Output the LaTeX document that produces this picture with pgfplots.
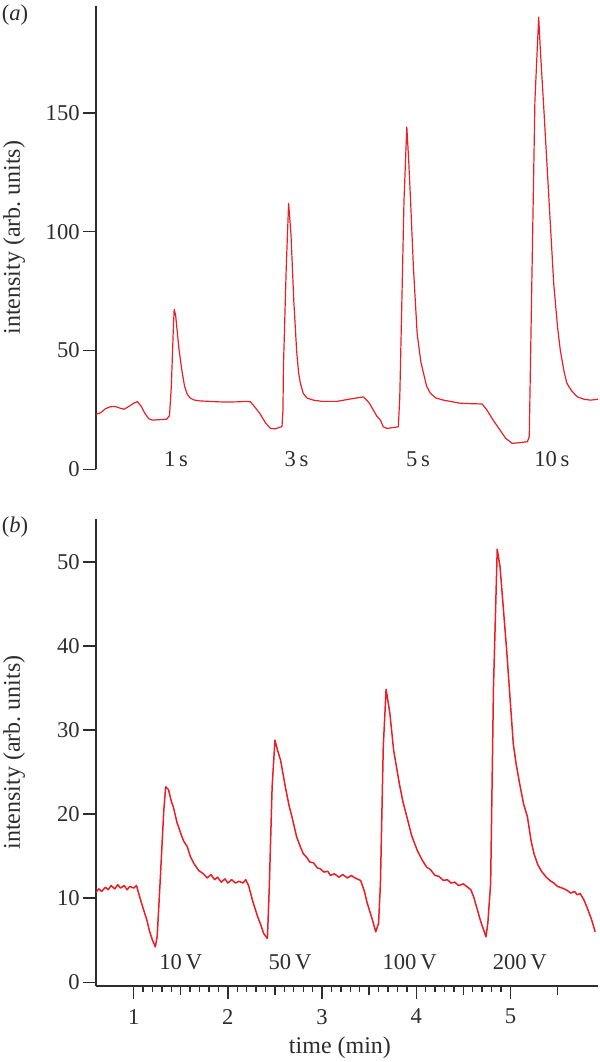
\documentclass[border=0pt]{standalone}
\usepackage{fontspec}
\setmainfont{Liberation Serif}
\usepackage{pgfplots}
\pgfplotsset{compat=1.18}
\definecolor{trace}{RGB}{235,30,38}
\definecolor{axisgray}{RGB}{45,45,45}

\tikzset{lab/.style={font=\fontsize{11.3}{13}\selectfont, text=axisgray}}
\pgfplotsset{
  panel/.style={
    scale only axis, width=251pt,
    xmin=0.6, xmax=5.93,
    axis y line*=left,
    ytick pos=left,
    x axis line style={-}, y axis line style={-},
    axis line style={axisgray, line width=0.7pt},
    tick style={axisgray, line width=0.7pt},
    tick align=outside,
    major tick length=6.5pt, minor tick length=3pt,
    tick label style={font=\fontsize{11.3}{13}\selectfont, text=axisgray},
    label style={font=\fontsize{12}{14}\selectfont, text=axisgray},
    /pgf/number format/assume math mode=true,
    ylabel={intensity (arb.\ units)},
    ylabel style={at={(axis description cs:-0.163,0.5)}, anchor=center},
    yticklabel style={inner sep=1.5pt},
    clip=false,
  },
  trace/.style={color=trace, no marks, line width=0.6pt, line join=round},
}

\begin{document}
\begin{tikzpicture}
\useasboundingbox (0pt,0pt) rectangle (300pt,-531pt);

% (a) peaks for pulse durations
\begin{axis}[panel,
  at={(48pt,-234.65pt)}, anchor=south west,
  height=231.65pt,
  ymin=0, ymax=195,
  axis x line=none,
  xtick=\empty,
  ytick={0,50,100,150},
]
\addplot[trace] coordinates {
(0.60,23.1) (0.65,23.8) (0.70,25.5) (0.75,26.3) (0.80,26.5) (0.85,25.8)
(0.90,25.3) (0.95,26.5) (1.00,27.8) (1.04,28.5) (1.08,26.5) (1.12,23.5)
(1.16,21.3) (1.20,20.7) (1.28,20.9) (1.35,21.1) (1.38,22.5) (1.40,35)
(1.42,58) (1.43,67.3) (1.445,65) (1.46,59) (1.48,51) (1.51,42) (1.54,35)
(1.57,31.5) (1.60,30) (1.64,29.2) (1.70,28.8) (1.80,28.6) (1.90,28.4)
(2.00,28.3) (2.10,28.4) (2.20,28.6) (2.24,28.4) (2.28,26.5) (2.34,23.5)
(2.40,19.5) (2.45,17.3) (2.50,17.0) (2.575,18.0) (2.585,25) (2.59,43)
(2.62,85) (2.645,111.9) (2.67,99) (2.70,71) (2.73,50) (2.75,41)
(2.77,36.2) (2.80,32) (2.84,30.0) (2.91,29.1) (3.00,28.6) (3.16,28.6)
(3.30,29.6) (3.44,30.5) (3.50,28) (3.58,22.5) (3.62,20.7) (3.65,17.9)
(3.69,17.2) (3.81,17.9) (3.825,30) (3.84,57) (3.87,113) (3.90,144.1)
(3.92,130) (3.94,113) (3.97,85) (4.01,57) (4.05,45) (4.08,40) (4.11,35)
(4.15,32) (4.21,30) (4.29,29.1) (4.47,27.8) (4.60,27.6) (4.70,27.5)
(4.75,25) (4.82,20.5) (4.89,16.5) (4.95,13) (5.02,10.9) (5.18,11.6)
(5.20,13.7) (5.23,85) (5.26,155) (5.30,190.3) (5.32,175) (5.35,155)
(5.41,113) (5.46,78) (5.50,60) (5.53,50) (5.57,41) (5.60,36.2)
(5.65,33) (5.71,30.5) (5.78,29.5) (5.85,29.1) (5.93,29.5)
};
\node[lab] at (axis cs:1.45,4.3) {1\,s};
\node[lab] at (axis cs:2.73,4.3) {3\,s};
\node[lab] at (axis cs:4.02,4.3) {5\,s};
\node[lab] at (axis cs:5.44,4.3) {10\,s};
\end{axis}

% (b) peaks for voltages
\begin{axis}[panel,
  at={(48pt,-493pt)}, anchor=south west,
  height=233.5pt,
  ymin=-0.45, ymax=55.1,
  axis x line*=bottom,
  xtick pos=bottom,
  ytick={0,10,20,30,40,50},
  xtick={1,2,3,4,5},
  minor x tick num=9,
  extra x ticks={1.5,2.5,3.5,4.5,5.5},
  extra x tick labels={},
  extra x tick style={major tick length=4.5pt},
  xlabel={time (min)},
  xticklabel style={yshift=-1.5pt},
  xlabel style={at={(axis description cs:0.486,0)}, anchor=base, yshift=-33.5pt},
]
\addplot[trace, line width=0.75pt] coordinates {
(0.60,10.7) (0.63,11.1) (0.66,10.8) (0.70,11.3) (0.73,11.0) (0.76,11.5)
(0.80,11.1) (0.83,11.6) (0.86,11.2) (0.90,11.5) (0.93,11.0) (0.96,11.4)
(1.00,11.2) (1.03,11.5) (1.06,10.3) (1.10,8.8) (1.14,7.4) (1.17,6.0)
(1.20,5.0) (1.23,4.2) (1.25,5.5) (1.28,11.75) (1.32,20.5) (1.34,23.25)
(1.37,22.9) (1.40,21.5) (1.42,20.9) (1.46,19.0) (1.50,17.7) (1.53,16.8)
(1.57,16.1) (1.60,15.0) (1.64,14.1) (1.69,13.3) (1.74,12.9) (1.78,12.4)
(1.82,12.8) (1.86,12.2) (1.89,12.5) (1.93,11.9) (1.97,12.3) (2.00,11.8)
(2.04,12.2) (2.08,11.8) (2.12,12.0) (2.16,11.8) (2.19,12.2) (2.22,11.5)
(2.26,9.8) (2.31,8.0) (2.35,6.8) (2.38,5.8) (2.42,5.2) (2.44,11.35)
(2.47,23.25) (2.50,28.8) (2.53,27.5) (2.56,26.4) (2.61,23.25) (2.65,21.0)
(2.68,19.7) (2.73,17.3) (2.77,16.1) (2.80,15.3) (2.84,14.8) (2.87,14.3)
(2.91,14.2) (2.95,13.6) (2.98,13.5) (3.02,13.1) (3.06,13.2) (3.09,12.7)
(3.13,12.9) (3.18,12.5) (3.22,12.8) (3.27,12.4) (3.31,12.7) (3.35,12.4)
(3.41,12.1) (3.45,10.8) (3.48,9.4) (3.53,7.6) (3.57,6.0) (3.60,7.0)
(3.62,11.75) (3.65,28) (3.68,34.85) (3.72,32) (3.76,27.6) (3.82,23.65)
(3.86,21.4) (3.90,19.7) (3.95,17.5) (4.01,15.7) (4.06,14.6) (4.11,13.7)
(4.15,13.4) (4.20,12.7) (4.24,12.6) (4.29,12.1) (4.33,12.2) (4.37,11.8)
(4.41,11.9) (4.45,11.5) (4.50,11.7) (4.54,11.35) (4.58,11.0) (4.61,10.15)
(4.68,7.4) (4.74,5.4) (4.76,7) (4.79,11.75) (4.82,35) (4.86,51.5)
(4.89,49.4) (4.96,39.5) (5.03,28.4) (5.06,26.0) (5.10,23.5) (5.14,21.2)
(5.18,19.7) (5.22,16.8) (5.25,15.3) (5.29,14.0) (5.33,13.2) (5.38,12.5)
(5.42,12.1) (5.46,11.8) (5.50,11.4) (5.55,11.2) (5.60,10.95) (5.64,10.6)
(5.68,10.8) (5.71,10.4) (5.74,10.55) (5.78,9.8) (5.81,9.0) (5.86,7.5)
(5.90,6.0)
};
\node[lab] at (axis cs:1.50,2.4) {10\,V};
\node[lab] at (axis cs:2.66,2.4) {50\,V};
\node[lab] at (axis cs:3.93,2.4) {100\,V};
\node[lab] at (axis cs:5.10,2.4) {200\,V};
\end{axis}

\node[lab] at (7.5pt,-7.5pt) {(\textit{a})};
\node[lab] at (7.5pt,-263.5pt) {(\textit{b})};
\end{tikzpicture}
\end{document}
